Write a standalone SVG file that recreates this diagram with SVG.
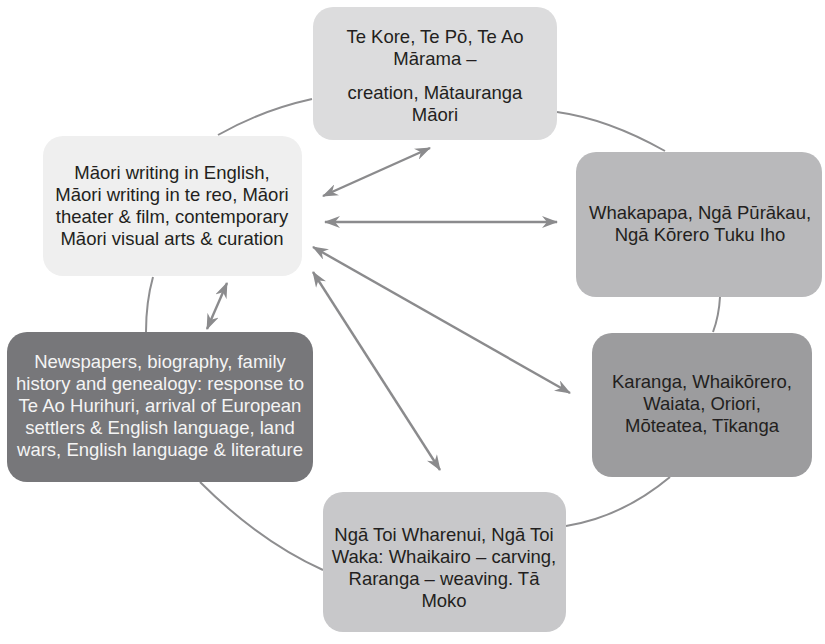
<svg xmlns="http://www.w3.org/2000/svg" width="825" height="644" viewBox="0 0 825 644">
  <style>
    .t { font-family: "Liberation Sans", Arial, sans-serif; font-size: 18.5px; fill: #231f20; text-anchor: middle; }
    .tw { fill: #f4f4f4; }
    .arc { fill: none; stroke: #8e8e90; stroke-width: 2; }
    .arr { fill: none; stroke: #8b8b8d; stroke-width: 2.4; marker-start: url(#ah); marker-end: url(#ah); }
  </style>
  <defs>
    <marker id="ah" viewBox="0 0 16 12" markerWidth="16" markerHeight="12" refX="15" refY="6" orient="auto-start-reverse" markerUnits="userSpaceOnUse">
      <path d="M0,0 L16,6 L0,12 L5,6 z" fill="#8b8b8d"/>
    </marker>
  </defs>
  <rect width="825" height="644" fill="#ffffff"/>
  <g id="connectors">
    <path class="arc" d="M218,135 Q262,110 312,99"/>
    <path class="arc" d="M557,112 Q608,119 665,151"/>
    <path class="arc" d="M720,297 Q719,316 713,332"/>
    <path class="arc" d="M670,477 Q622,517 566,526"/>
    <path class="arc" d="M200,482 Q259,541 323,570"/>
    <path class="arc" d="M153,277 Q146,302 146,332"/>
    <line class="arr" x1="323" y1="196" x2="430" y2="148"/>
    <line class="arr" x1="325" y1="222" x2="557" y2="222"/>
    <line class="arr" x1="313" y1="247" x2="570" y2="393"/>
    <line class="arr" x1="313" y1="272" x2="440" y2="470"/>
    <line class="arr" x1="227" y1="283" x2="207" y2="329"/>
  </g>
  <g id="node-top">
    <rect x="313" y="7" width="244" height="133" rx="20" fill="#dcdcdd"/>
    <text class="t" x="435" y="43">Te Kore, Te Pō, Te Ao</text>
    <text class="t" x="435" y="65">Mārama –</text>
    <text class="t" x="435" y="99">creation, Mātauranga</text>
    <text class="t" x="435" y="121">Māori</text>
  </g>
  <g id="node-writing">
    <rect x="43" y="136" width="259" height="140" rx="20" fill="#efefef"/>
    <text class="t" x="172" y="179">Māori writing in English,</text>
    <text class="t" x="172" y="201">Māori writing in te reo, Māori</text>
    <text class="t" x="172" y="223">theater &amp; film, contemporary</text>
    <text class="t" x="172" y="245">Māori visual arts &amp; curation</text>
  </g>
  <g id="node-whakapapa">
    <rect x="576" y="152" width="246" height="145" rx="20" fill="#b9b9bb"/>
    <text class="t" x="700" y="219">Whakapapa, Ngā Pūrākau,</text>
    <text class="t" x="700" y="241">Ngā Kōrero Tuku Iho</text>
  </g>
  <g id="node-karanga">
    <rect x="592" y="333" width="220" height="144" rx="20" fill="#9c9c9e"/>
    <text class="t" x="702" y="388">Karanga, Whaikōrero,</text>
    <text class="t" x="702" y="410">Waiata, Oriori,</text>
    <text class="t" x="702" y="432">Mōteatea, Tīkanga</text>
  </g>
  <g id="node-newspapers">
    <rect x="7" y="332" width="306" height="150" rx="20" fill="#77777a"/>
    <text class="t tw" x="160" y="368">Newspapers, biography, family</text>
    <text class="t tw" x="160" y="390">history and genealogy: response to</text>
    <text class="t tw" x="160" y="412">Te Ao Hurihuri, arrival of European</text>
    <text class="t tw" x="160" y="434">settlers &amp; English language, land</text>
    <text class="t tw" x="160" y="456">wars, English language &amp; literature</text>
  </g>
  <g id="node-toi">
    <rect x="323" y="492" width="243" height="140" rx="20" fill="#c8c8ca"/>
    <text class="t" x="444" y="541">Ngā Toi Wharenui, Ngā Toi</text>
    <text class="t" x="444" y="563">Waka: Whaikairo – carving,</text>
    <text class="t" x="444" y="585">Raranga – weaving. Tā</text>
    <text class="t" x="444" y="607">Moko</text>
  </g>
</svg>
